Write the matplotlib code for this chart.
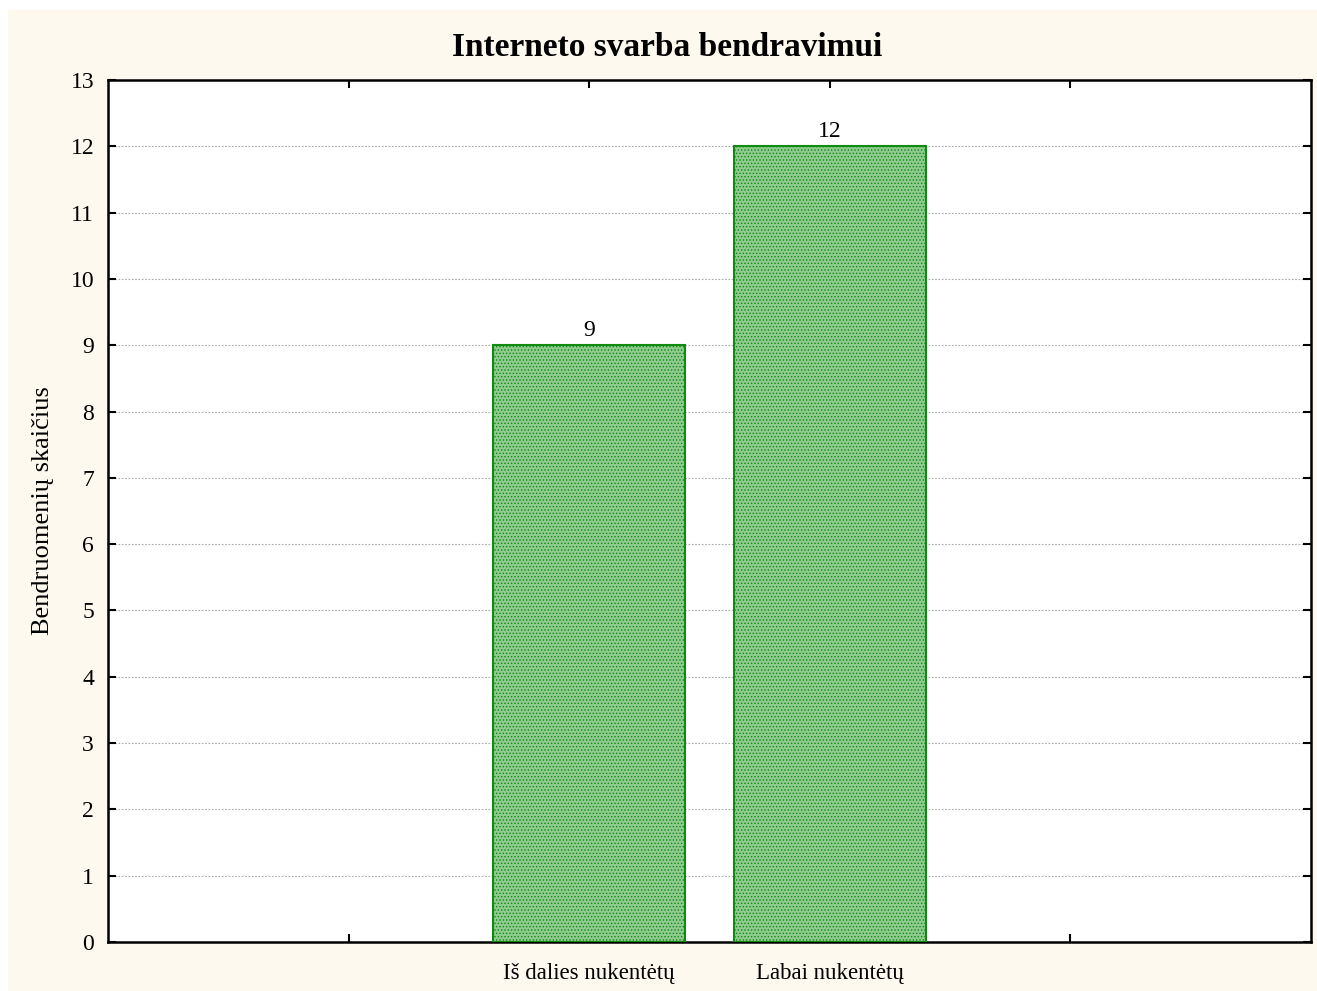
import numpy as np
import matplotlib.pyplot as plt
from matplotlib.patches import Rectangle

# Duomenys
kategorijos = ['', 'Iš dalies nukentėtų', 'Labai nukentėtų', '']
reiksmes = [0, 9, 12, 0]

plt.rcParams['font.family'] = ['Liberation Serif', 'DejaVu Serif']
plt.rcParams['hatch.linewidth'] = 0.6
plt.rcParams['hatch.color'] = '#5fa85f'

fig = plt.figure(figsize=(13.17, 9.91), dpi=100, facecolor='#fef9ee')
# baltos juostos viršuje ir kairėje
fig.patches.append(Rectangle((0, 1 - 10/991), 1, 10/991, transform=fig.transFigure,
                             facecolor='white', edgecolor='none', zorder=-5))
fig.patches.append(Rectangle((0, 0), 8/1317, 1, transform=fig.transFigure,
                             facecolor='white', edgecolor='none', zorder=-5))

ax = fig.add_axes([108/1317, 1 - 942/991, (1311 - 108)/1317, (942 - 80)/991])
ax.set_facecolor('white')

x = np.arange(len(kategorijos))
for xi, v in zip(x, reiksmes):
    if v > 0:
        ax.bar(xi, v, width=0.8, color='#8fcb8f', edgecolor='#108a10', linewidth=1.5,
               hatch='.....', zorder=3)
        ax.text(xi, v + 0.07, f'{v}', ha='center', va='bottom', fontsize=17)

ax.set_xlim(-1, 4)
ax.set_ylim(0, 13)
ax.set_xticks(x)
ax.set_xticklabels(kategorijos, fontsize=16.5)
ax.set_yticks(np.arange(0, 14, 1))
ax.tick_params(axis='y', labelsize=17, direction='in', length=6, width=1.5,
               left=True, right=True, pad=10)
ax.tick_params(axis='x', direction='in', length=6, width=1.5, top=True, bottom=True, pad=15)

ax.yaxis.grid(True, color='#aaaaaa', linestyle=(0, (1.5, 1.5)), linewidth=0.8)
ax.set_axisbelow(True)
for s in ax.spines.values():
    s.set_linewidth(1.8)

ax.set_ylabel('Bendruomenių skaičius', fontsize=19, labelpad=12)
fig.text(667/1317, 1 - 47/991, 'Interneto svarba bendravimui',
         ha='center', va='center', fontsize=24, fontweight='bold')

plt.savefig('out.png', dpi=100, facecolor=fig.get_facecolor())
